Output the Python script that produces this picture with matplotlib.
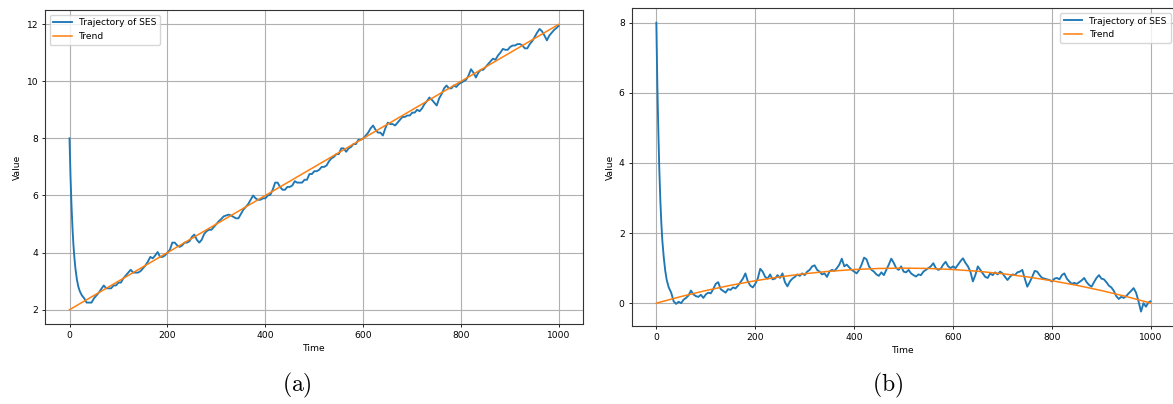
import numpy as np
import matplotlib
matplotlib.use("Agg")
import matplotlib.pyplot as plt

plt.rcParams['font.family'] = ['DejaVu Sans']
plt.rcParams['mathtext.fontset'] = 'cm'

# sample times: fast decay at the start, then every 5 steps
t_start = [0, 2, 4, 6, 8, 10, 12, 15, 18, 21, 25, 30]
t_rest = list(range(35, 1000, 5)) + [999]
time = np.array(t_start + t_rest)

# (a) trajectory of SES
ses_a = [8.0, 6.7, 5.68, 4.89, 4.28, 3.82, 3.46, 3.07, 2.81, 2.65, 2.51, 2.4,
         2.25, 2.25, 2.25, 2.40, 2.50, 2.60, 2.73, 2.85, 2.75, 2.75,
         2.75, 2.85, 2.85, 2.95, 2.95, 3.10, 3.20, 3.30, 3.40, 3.30,
         3.30, 3.30, 3.35, 3.45, 3.55, 3.68, 3.85, 3.80, 3.90, 4.02,
         3.85, 3.85, 3.90, 4.00, 4.10, 4.35, 4.35, 4.25, 4.20, 4.25,
         4.35, 4.35, 4.40, 4.55, 4.63, 4.45, 4.35, 4.45, 4.65, 4.75,
         4.80, 4.80, 4.90, 5.00, 5.10, 5.18, 5.27, 5.30, 5.33, 5.30,
         5.25, 5.20, 5.20, 5.35, 5.50, 5.60, 5.70, 5.85, 6.00, 5.90,
         5.85, 5.85, 5.90, 5.90, 6.00, 6.02, 6.20, 6.45, 6.45, 6.30,
         6.20, 6.20, 6.30, 6.30, 6.35, 6.50, 6.45, 6.45, 6.45, 6.55,
         6.55, 6.75, 6.75, 6.85, 6.85, 6.90, 7.00, 7.00, 7.05, 7.20,
         7.30, 7.35, 7.45, 7.45, 7.65, 7.65, 7.53, 7.65, 7.70, 7.80,
         7.80, 7.95, 7.95, 8.00, 8.10, 8.20, 8.35, 8.45, 8.30, 8.20,
         8.20, 8.10, 8.35, 8.55, 8.50, 8.50, 8.45, 8.55, 8.65, 8.75,
         8.75, 8.80, 8.80, 8.90, 8.90, 9.00, 8.95, 9.05, 9.20, 9.30,
         9.43, 9.35, 9.25, 9.15, 9.40, 9.55, 9.75, 9.85, 9.75, 9.75,
         9.85, 9.80, 9.90, 9.95, 10.00, 10.05, 10.20, 10.42, 10.30, 10.13,
         10.30, 10.40, 10.40, 10.50, 10.60, 10.70, 10.79, 10.75, 10.90, 11.00,
         11.13, 11.10, 11.10, 11.20, 11.25, 11.25, 11.30, 11.30, 11.25, 11.15,
         11.15, 11.30, 11.40, 11.55, 11.70, 11.83, 11.75, 11.60, 11.43, 11.60,
         11.70, 11.80, 11.87, 11.94]

# (b) trajectory of SES
ses_b = [8.0, 6.2, 4.9, 3.8, 2.95, 2.3, 1.8, 1.3, 0.92, 0.66, 0.45, 0.3,
         0.05, -0.02, 0.04, 0.00, 0.10, 0.15, 0.22, 0.36, 0.25, 0.20,
         0.18, 0.24, 0.15, 0.25, 0.30, 0.28, 0.40, 0.55, 0.60, 0.40,
         0.35, 0.30, 0.40, 0.38, 0.45, 0.42, 0.50, 0.60, 0.70, 0.85,
         0.62, 0.50, 0.45, 0.55, 0.70, 0.98, 0.90, 0.75, 0.70, 0.82,
         0.68, 0.70, 0.80, 0.72, 0.85, 0.60, 0.48, 0.62, 0.70, 0.75,
         0.82, 0.78, 0.85, 0.80, 0.90, 0.95, 1.05, 1.08, 0.95, 0.90,
         0.82, 0.85, 0.75, 0.90, 0.95, 0.92, 1.00, 1.10, 1.27, 1.05,
         1.10, 1.02, 0.95, 0.90, 0.85, 0.95, 1.10, 1.30, 1.25, 1.05,
         0.95, 0.90, 0.82, 0.78, 0.88, 0.80, 0.95, 1.10, 1.27, 1.15,
         1.00, 0.95, 1.05, 0.90, 0.88, 0.95, 0.85, 0.80, 0.76, 0.82,
         0.80, 0.90, 0.95, 1.00, 1.05, 1.14, 1.00, 0.95, 0.98, 1.10,
         1.18, 1.05, 1.00, 1.05, 1.00, 1.10, 1.20, 1.28, 1.15, 1.05,
         0.90, 0.62, 0.80, 1.05, 0.95, 0.85, 0.75, 0.72, 0.85, 0.80,
         0.88, 0.82, 0.90, 0.85, 0.75, 0.66, 0.75, 0.82, 0.80, 0.88,
         0.90, 0.95, 0.70, 0.47, 0.60, 0.75, 0.92, 0.90, 0.80, 0.72,
         0.70, 0.68, 0.66, 0.62, 0.70, 0.72, 0.68, 0.80, 0.85, 0.70,
         0.62, 0.55, 0.58, 0.55, 0.60, 0.65, 0.72, 0.60, 0.52, 0.47,
         0.60, 0.72, 0.80, 0.70, 0.68, 0.60, 0.50, 0.45, 0.35, 0.20,
         0.12, 0.18, 0.15, 0.20, 0.28, 0.35, 0.43, 0.30, 0.05, -0.24,
         0.00, -0.10, 0.02, 0.05]

# trends
trend_a_time = [0, 250, 500, 750, 999]
trend_a = [2.0, 4.5, 7.0, 9.5, 11.99]
trend_b_time = [0, 50, 100, 150, 200, 250, 300, 350, 400, 450, 500,
                550, 600, 650, 700, 750, 800, 850, 900, 950, 999]
trend_b = [0.0, 0.19, 0.36, 0.51, 0.64, 0.75, 0.84, 0.91, 0.96, 0.99, 1.0,
           0.99, 0.96, 0.91, 0.84, 0.75, 0.64, 0.51, 0.36, 0.19, 0.004]

fs = 6.6
fig = plt.figure(figsize=(11.73, 4.04), dpi=100)
ax1 = fig.add_axes([0.0384, 0.198, 0.4587, 0.777])
ax2 = fig.add_axes([0.5385, 0.193, 0.4633, 0.7864])

for ax, ses, tt, tr, loc in [(ax1, ses_a, trend_a_time, trend_a, 'upper left'),
                             (ax2, ses_b, trend_b_time, trend_b, 'upper right')]:
    ax.plot(time, ses, color='#1f77b4', lw=1.35, label='Trajectory of SES')
    ax.plot(tt, tr, color='#ff7f0e', lw=1.1, label='Trend')
    ax.grid(True, color='#b0b0b0', lw=0.8)
    ax.set_xlabel('Time', fontsize=fs, labelpad=3)
    ax.set_ylabel('Value', fontsize=fs, labelpad=3)
    ax.tick_params(labelsize=fs, length=2.5, width=0.6, pad=2.5)
    ax.set_xticks([0, 200, 400, 600, 800, 1000])
    for s in ax.spines.values():
        s.set_linewidth(0.8)
        s.set_color('#333333')
    ax.legend(loc=loc, fontsize=fs)

ax1.set_yticks([2, 4, 6, 8, 10, 12])
ax2.set_yticks([0, 2, 4, 6, 8])

fig.text(0.253, 0.047, r'$(\mathrm{a})$', fontsize=17, ha='center', va='center')
fig.text(0.757, 0.047, r'$(\mathrm{b})$', fontsize=17, ha='center', va='center')

fig.savefig('out.png', dpi=100)
